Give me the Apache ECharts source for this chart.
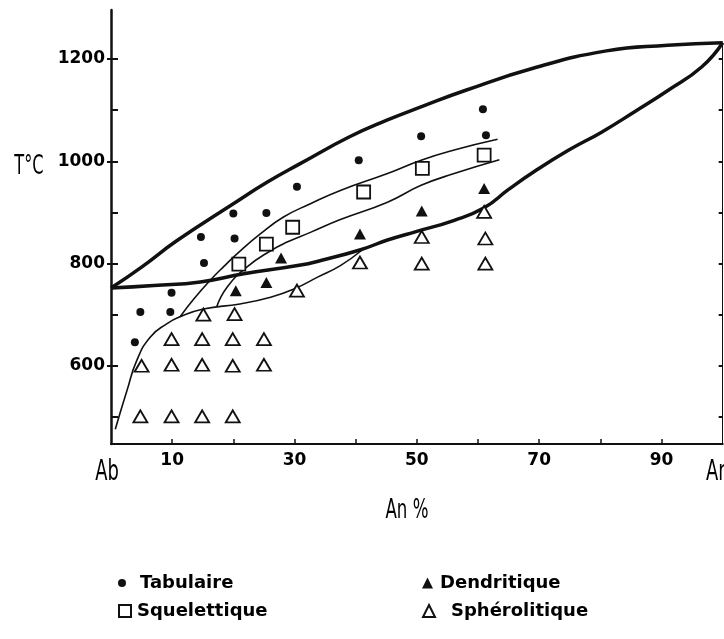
<!DOCTYPE html>
<html>
<head>
<meta charset="utf-8">
<script src="https://cdn.jsdelivr.net/npm/echarts@6/dist/echarts.min.js"></script>
<style>
html, body { margin: 0; padding: 0; background: #fff; }
#phase { width: 724px; height: 639px; }
</style>
</head>
<body>
<div id="phase"></div>
<script>
// courbes du diagramme Ab-An : [An %, T °C]
var liquidus = [[0, 752], [5, 793], [10.8, 845], [20, 917], [25.5, 959], [31, 996], [39, 1048],
    [45, 1080], [51, 1108], [58, 1139], [69, 1182], [81, 1216], [91, 1227], [100, 1232]];
var solidus = [[0, 752], [7, 757], [14.6, 764], [21.7, 780], [31, 797], [34.3, 806], [40.8, 827], [45.2, 846],
    [50, 863], [56, 884], [61, 909], [65, 945], [69.2, 980], [74.7, 1021], [80.2, 1057], [85.6, 1097],
    [91.1, 1139], [96.6, 1185], [100, 1232]];
var curveA = [[0.7, 476], [2.6, 551], [4.2, 610], [6.4, 656], [9.1, 682], [11.3, 696], [15.1, 711], [21.1, 721],
    [26.1, 734], [29.9, 750], [33.7, 773], [37.5, 796], [41, 826]];
var curveB = [[11.3, 696], [13.5, 730], [16.2, 767], [18.5, 795], [20.6, 819], [24.4, 858], [28.2, 891],
    [32.6, 917], [37.5, 943], [45.2, 976], [50.7, 1002], [56.1, 1022], [63.2, 1043]];
var curveC = [[17.3, 716], [19, 754], [22.2, 793], [26.1, 825], [28.8, 842], [32.6, 861], [37.5, 886],
    [45.2, 920], [50.7, 953], [56.1, 976], [63.5, 1003]];

// points experimentaux
var tabulaire = [[3.9, 646], [4.8, 705], [9.7, 705], [9.9, 743], [15.2, 801], [14.7, 852], [20.2, 849],
    [20, 898], [25.4, 899], [30.4, 950], [40.5, 1002], [50.7, 1049], [60.8, 1102], [61.3, 1051]];
var squelettique = [[20.9, 799], [25.4, 838], [29.7, 871], [41.3, 940], [50.9, 986], [61, 1012]];
var dendritique = [[20.4, 747], [25.4, 763], [27.8, 811], [40.7, 858], [50.8, 903], [61, 947]];
var spherolitique = [[4.8, 501], [9.9, 501], [14.9, 501], [19.9, 501],
    [5, 600], [9.9, 602], [14.9, 602], [19.9, 600], [25, 602],
    [9.9, 652], [14.9, 652], [19.9, 652], [25, 652],
    [15.1, 700], [20.2, 701], [30.4, 747], [40.7, 802],
    [50.8, 852], [50.8, 800], [61.2, 849], [61.2, 800], [61, 901]];

// axes
var xLabelValues = [10, 30, 50, 70, 90];
var xTickValues = [10, 20, 30, 40, 50, 60, 70, 80, 90];
var xEndNames = ['Ab', 'An'];
var yLabelValues = [600, 800, 1000, 1200];
var yTickValues = [500, 600, 700, 800, 900, 1000, 1100, 1200];
var yMin = 447, yMax = 1296;

(function(){

var chart = echarts.init(document.getElementById('phase'));

var narrow = "'DejaVu Sans', sans-serif";
var numFont = {fontFamily: 'DejaVu Sans', fontWeight: 'bold', fontSize: 17, color: '#000'};

function curve(name, data, width) {
    return {
        name: name,
        type: 'line',
        data: data,
        smooth: 0.5,
        symbol: 'none',
        silent: true,
        z: 2,
        lineStyle: {color: '#111', width: width}
    };
}

function points(name, data, symbol, size, filled) {
    return {
        name: name,
        type: 'scatter',
        data: data,
        symbol: symbol,
        symbolSize: size,
        z: 5,
        itemStyle: filled ? {color: '#111', opacity: 1}
            : {color: '#fff', borderColor: '#111', borderWidth: 1.8, opacity: 1}
    };
}

var right = solidus[solidus.length - 1];
var rightEdge = curve('bord', [], 1);
rightEdge.markLine = {
    silent: true,
    symbol: 'none',
    label: {show: false},
    lineStyle: {color: '#111', width: 1, type: 'solid'},
    data: [[{coord: [right[0], yMin]}, {coord: right}]]
};

function legend(name, left, top, size, gap) {
    return {
        data: [name],
        left: left,
        top: top,
        padding: 0,
        itemWidth: size,
        itemHeight: size,
        selectedMode: false,
        textStyle: {fontFamily: 'DejaVu Sans', fontWeight: 'bold', fontSize: 18, color: '#000', padding: [0, 0, 0, gap]}
    };
}

// texte etroit : police normale comprimee horizontalement
function narrowText(text, x, y, size, sx) {
    return {
        type: 'text', x: x, y: y, scaleX: sx || 0.64,
        style: {text: text, font: size + 'px ' + narrow, fill: '#000', align: 'center', verticalAlign: 'middle'}
    };
}

option = {
    animation: false,
    grid: {
        left: 111,
        right: 1.3,
        top: 10,
        bottom: 195,
        containLabel: false,
        outerBoundsMode: 'none'
    },
    legend: [
        legend('Tabulaire', 118, 574, 8, 9),
        legend('Squelettique', 118, 602, 12, 1),
        legend('Dendritique', 422, 574, 11, 2),
        legend('Sphérolitique', 422, 602, 12, 11)
    ],
    xAxis: {
        type: 'value',
        min: 0,
        max: 100,
        splitLine: {show: false},
        axisLine: {lineStyle: {color: '#111', width: 2}},
        axisTick: {inside: true, length: 5, customValues: xTickValues, lineStyle: {color: '#111', width: 1.5}},
        axisLabel: {
            customValues: xLabelValues,
            margin: 8,
            fontFamily: numFont.fontFamily,
            fontWeight: numFont.fontWeight,
            fontSize: numFont.fontSize,
            color: numFont.color
        }
    },
    yAxis: [
        {
            type: 'value',
            min: yMin,
            max: yMax,
            position: 'left',
            splitLine: {show: false},
            axisLine: {show: true, lineStyle: {color: '#111', width: 2.5}},
            axisTick: {inside: false, length: 4, customValues: yLabelValues, lineStyle: {color: '#111', width: 2}},
            axisLabel: {
                customValues: yLabelValues,
                formatter: function (v) { return String(v); },
                margin: 6,
                fontFamily: numFont.fontFamily,
                fontWeight: numFont.fontWeight,
                fontSize: numFont.fontSize,
                color: numFont.color
            }
        },
        {
            type: 'value',
            min: yMin,
            max: yMax,
            position: 'left',
            splitLine: {show: false},
            axisLine: {show: false},
            axisTick: {inside: true, length: 7, customValues: yTickValues, lineStyle: {color: '#111', width: 2}},
            axisLabel: {show: false}
        },
        {
            type: 'value',
            min: yMin,
            max: yMax,
            position: 'right',
            splitLine: {show: false},
            axisLine: {show: false},
            axisTick: {inside: true, length: 4, customValues: yTickValues, lineStyle: {color: '#111', width: 2}},
            axisLabel: {show: false}
        }
    ],
    series: [
        curve('liquidus', liquidus, 3.5),
        curve('solidus', solidus, 3.5),
        curve('a', curveA, 1.6),
        curve('b', curveB, 1.6),
        curve('c', curveC, 1.6),
        rightEdge,
        points('Tabulaire', tabulaire, 'circle', 8, true),
        points('Squelettique', squelettique, 'rect', 13, false),
        points('Dendritique', dendritique, 'triangle', [12, 11], true),
        points('Sphérolitique', spherolitique, 'triangle', [14, 12], false)
    ]
};

chart.setOption(option);

// Ab / An sous les extremites de l'axe, T°C et An %
var p0 = chart.convertToPixel({gridIndex: 0}, [0, yMin]);
var p1 = chart.convertToPixel({gridIndex: 0}, [100, yMin]);
chart.setOption({
    graphic: [
        narrowText(xEndNames[0], p0[0] - 4, p0[1] + 29, 28),
        narrowText(xEndNames[1], p1[0] - 5, p1[1] + 29, 28),
        narrowText('T°C', 29, 167, 27, 0.6),
        narrowText('An %', 407, 511, 26)
    ]
});
})();
</script>
</body>
</html>
